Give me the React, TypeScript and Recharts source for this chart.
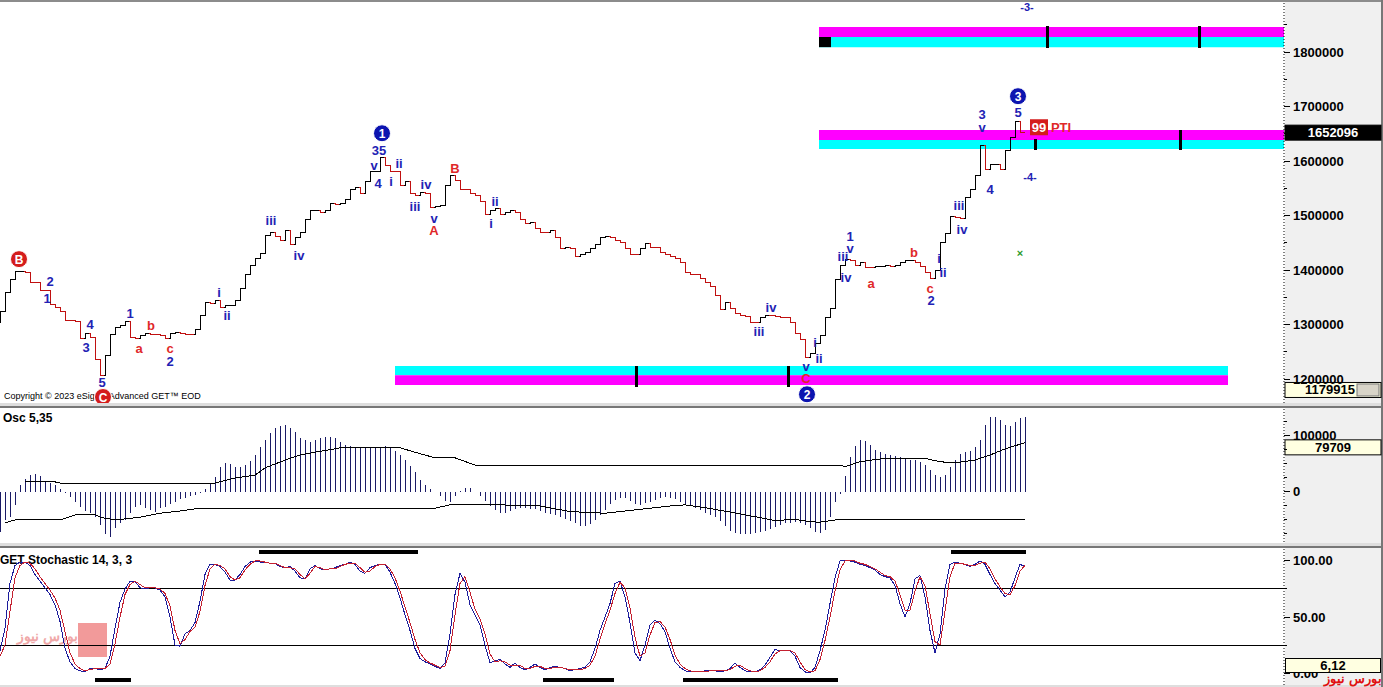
import {
  ComposedChart,
  Line,
  Bar,
  XAxis,
  YAxis,
  ReferenceArea,
  ReferenceLine,
  ReferenceDot,
} from 'recharts'

// daily closes, thousands (one bar every index)
const PRICE = [
  1303, 1323, 1358, 1382, 1398, 1398, 1395, 1378, 1378, 1363,
  1363, 1336, 1332, 1323, 1308, 1308, 1305, 1275, 1284, 1277,
  1235, 1207, 1244, 1281, 1294, 1299, 1305, 1277, 1275, 1279,
  1284, 1281, 1281, 1279, 1275, 1284, 1286, 1284, 1281, 1281,
  1290, 1317, 1341, 1339, 1345, 1332, 1334, 1334, 1345, 1367,
  1391, 1409, 1422, 1431, 1464, 1468, 1461, 1455, 1473, 1446,
  1459, 1468, 1492, 1510, 1510, 1506, 1510, 1523, 1521, 1523,
  1530, 1547, 1552, 1541, 1562, 1580, 1580, 1606, 1591, 1580,
  1580, 1556, 1562, 1541, 1536, 1543, 1541, 1514, 1516, 1519,
  1556, 1573, 1565, 1547, 1547, 1541, 1536, 1525, 1501, 1510,
  1512, 1501, 1506, 1510, 1505, 1492, 1486, 1488, 1477, 1468,
  1468, 1472, 1459, 1440, 1442, 1440, 1424, 1428, 1433, 1440,
  1446, 1459, 1462, 1459, 1455, 1450, 1440, 1428, 1428, 1440,
  1448, 1442, 1442, 1433, 1428, 1424, 1422, 1413, 1396, 1391,
  1391, 1385, 1378, 1369, 1354, 1327, 1341, 1330, 1321, 1317,
  1314, 1303, 1303, 1312, 1317, 1316, 1314, 1312, 1312, 1303,
  1284, 1272, 1240, 1246, 1266, 1279, 1312, 1330, 1382, 1409,
  1420, 1418, 1409, 1413, 1404, 1404, 1406, 1407, 1409, 1406,
  1409, 1413, 1417, 1417, 1413, 1407, 1396, 1385, 1400, 1451,
  1467, 1499, 1497, 1494, 1534, 1547, 1573, 1629, 1584, 1593,
  1593, 1584, 1620, 1644, 1673, 1652,
]

// Osc 5,35 histogram, thousands
const OSC = [
  -71, -50, -44, -23, 12, 24, 30, 32, 29, 20,
  16, 12, 5, -2, -9, -17, -27, -34, -38, -45,
  -59, -75, -80, -65, -56, -50, -38, -27, -24, -28,
  -32, -36, -29, -27, -22, -17, -13, -11, -8, -5,
  -2, 5, 14, 27, 45, 52, 50, 45, 45, 48,
  56, 66, 80, 93, 105, 114, 118, 119, 114, 107,
  96, 93, 89, 93, 96, 98, 98, 96, 89, 84,
  82, 80, 80, 79, 78, 78, 78, 82, 80, 74,
  66, 58, 47, 35, 22, 12, 6, 0, -8, -16,
  -18, -8, 1, 7, 7, 0, -8, -16, -25, -33,
  -38, -38, -34, -31, -29, -29, -30, -31, -34, -37,
  -39, -41, -44, -48, -52, -56, -61, -61, -57, -50,
  -41, -32, -22, -14, -11, -11, -16, -21, -23, -20,
  -18, -14, -11, -9, -10, -13, -18, -22, -25, -28,
  -33, -37, -41, -45, -52, -61, -69, -73, -75, -75,
  -75, -74, -71, -69, -66, -63, -59, -56, -55, -54,
  -55, -59, -64, -71, -73, -68, -45, -18, -3, 28,
  62, 82, 93, 91, 84, 75, 71, 68, 66, 65,
  62, 60, 57, 57, 54, 48, 40, 30, 27, 30,
  45, 58, 68, 72, 74, 80, 92, 120, 134, 134,
  128, 119, 117, 125, 132, 134,
]

// envelope lines of the oscillator: [bar, value]
const OSC_UPPER = [
  [5, 18], [11, 18], [12, 16], [43, 16], [47, 25], [51, 30], [53, 43], [57, 57],
  [60, 66], [63, 71], [67, 77], [68, 79], [80, 79], [83, 71], [87, 61], [91, 61],
  [95, 48], [168, 48], [169, 45], [172, 54], [176, 59], [180, 60], [185, 60],
  [188, 54], [191, 52], [195, 57], [198, 66], [201, 77], [205, 88],
]
const OSC_LOWER = [
  [1, -55], [3, -50], [12, -50], [15, -41], [19, -40], [20, -45], [23, -50],
  [28, -45], [32, -38], [36, -34], [40, -29], [87, -29], [90, -23], [100, -23],
  [108, -25], [114, -35], [121, -38], [128, -31], [134, -25], [137, -23],
  [141, -28], [148, -39], [155, -51], [159, -49], [162, -53], [164, -54],
  [167, -50], [205, -50],
]

const STOCH_K = [
  20, 40, 80, 96, 99, 99, 96, 88, 82, 76,
  70, 61, 46, 22, 10, 4, 2, 1, 4, 4,
  3, 4, 15, 40, 63, 75, 82, 82, 76, 75,
  76, 76, 74, 68, 50, 25, 24, 35, 38, 45,
  64, 88, 97, 97, 95, 90, 83, 83, 88, 95,
  99, 100, 99, 99, 98, 98, 95, 94, 95, 91,
  85, 84, 93, 96, 93, 92, 93, 94, 96, 97,
  99, 97, 91, 89, 94, 96, 97, 97, 90, 80,
  67, 52, 38, 22, 13, 10, 8, 6, 4, 9,
  35, 70, 89, 81, 61, 52, 43, 25, 9, 11,
  12, 8, 5, 9, 5, 3, 5, 8, 5, 3,
  5, 6, 5, 4, 2, 3, 4, 5, 10, 22,
  38, 50, 62, 80, 82, 68, 45, 18, 11, 25,
  43, 47, 44, 37, 22, 10, 5, 2, 1, 1,
  1, 2, 2, 2, 1, 2, 4, 9, 5, 2,
  1, 1, 3, 7, 14, 21, 20, 20, 20, 15,
  5, 1, 0, 5, 20, 38, 62, 85, 100, 100,
  100, 99, 97, 96, 94, 92, 88, 86, 85, 78,
  62, 50, 62, 84, 87, 68, 38, 18, 35, 75,
  97, 99, 98, 97, 95, 97, 100, 97, 88, 80,
  74, 68, 72, 85, 97, 95,
]
const STOCH_D = [
  15, 25, 55, 85, 96, 99, 98, 93, 86, 80,
  74, 67, 56, 37, 18, 8, 4, 2, 3, 4,
  4, 4, 8, 26, 50, 70, 79, 82, 79, 76,
  76, 76, 75, 71, 60, 38, 26, 30, 37, 41,
  55, 78, 93, 97, 96, 93, 86, 83, 85, 92,
  97, 100, 100, 99, 98, 98, 96, 94, 94, 93,
  88, 84, 89, 95, 94, 92, 93, 93, 95, 97,
  98, 98, 94, 90, 91, 95, 97, 97, 93, 85,
  73, 59, 45, 30, 18, 12, 9, 7, 5, 6,
  20, 52, 80, 86, 72, 57, 48, 35, 17, 10,
  11, 10, 7, 7, 7, 4, 4, 6, 6, 4,
  4, 5, 5, 4, 3, 3, 3, 4, 7, 15,
  30, 44, 56, 71, 81, 76, 58, 32, 15, 18,
  34, 45, 46, 41, 30, 16, 8, 4, 2, 1,
  1, 1, 2, 2, 2, 2, 3, 6, 7, 4,
  2, 1, 2, 5, 10, 17, 20, 20, 20, 18,
  10, 3, 1, 2, 12, 29, 50, 73, 92, 100,
  100, 100, 98, 97, 95, 93, 90, 87, 86, 82,
  70, 56, 56, 73, 86, 78, 53, 28, 25, 55,
  86, 98, 98, 97, 96, 96, 98, 99, 93, 84,
  77, 71, 70, 78, 91, 96,
]

// time-projection bands: [from bar, to bar, low, high, colour]
const BANDS = [
  [163.8, 256.8, 1827.6, 1846, '#ff00ff'],
  [163.8, 256.8, 1809, 1827.6, '#00ffff'],
  [163.8, 256.8, 1638.6, 1657, '#ff00ff'],
  [163.8, 256.8, 1622, 1638.6, '#00ffff'],
  [79, 245.6, 1207, 1224, '#00ffff'],
  [79, 245.6, 1189, 1207, '#ff00ff'],
  [163.8, 166.2, 1809, 1827.6, '#000000'],
]
const BAND_MARKS = [
  [209.4, 1808, 1847], [239.8, 1808, 1847],
  [207, 1620, 1641], [236, 1620, 1657],
  [127.2, 1185, 1224], [157.6, 1185, 1224],
]
const STOCH_BARS = [
  [51.8, 83.6, 108], [190.2, 205.2, 108],
  [19, 26.2, -6.5], [108.6, 122.8, -6.5], [136.6, 167.6, -6.5],
]

// wave counts: [bar, price, text, kind]
const WAVES = [
  [3.8, 1420, 'B', 'cr'], [10, 1380, '2', 'b'], [9.4, 1349, '1', 'b'],
  [18, 1301, '4', 'b'], [17.2, 1259, '3', 'b'], [20.4, 1194, '5', 'b'],
  [20.6, 1167, 'C', 'cr'], [26, 1321, '1', 'b'], [30.2, 1299, 'b', 'r'],
  [27.8, 1257, 'a', 'r'], [34, 1257, 'c', 'r'], [34, 1233, '2', 'b'],
  [43.8, 1360, 'i', 'b'], [45.4, 1316, 'ii', 'b'], [54.2, 1492, 'iii', 'b'],
  [59.8, 1427, 'iv', 'b'], [76.4, 1651, '1', 'cb'], [75.8, 1620, '35', 'b'],
  [74.8, 1593, 'v', 'b'], [75.6, 1560, '4', 'b'], [78.2, 1563, 'i', 'b'],
  [79.8, 1596, 'ii', 'b'], [83, 1516, 'iii', 'b'], [85.2, 1558, 'iv', 'b'],
  [86.8, 1495, 'v', 'b'], [86.8, 1472, 'A', 'r'], [91, 1587, 'B', 'r'],
  [99, 1527, 'ii', 'b'], [98.2, 1486, 'i', 'b'], [154.2, 1332, 'iv', 'b'],
  [151.8, 1288, 'iii', 'b'], [163, 1268, 'i', 'b'], [163.8, 1238, 'ii', 'b'],
  [161.2, 1224, 'v', 'b'], [161.2, 1202, 'C', 'r'], [161.4, 1172, '2', 'cb'],
  [170, 1462, '1', 'b'], [170, 1439, 'v', 'b'], [168.6, 1426, 'iii', 'b'],
  [169.2, 1387, 'iv', 'b'], [174.2, 1376, 'a', 'r'], [182.8, 1433, 'b', 'r'],
  [187.8, 1422, 'i', 'b'], [188.6, 1396, 'ii', 'b'], [186, 1367, 'c', 'r'],
  [186.2, 1345, '2', 'b'], [191.8, 1519, 'iii', 'b'], [192.4, 1475, 'iv', 'b'],
  [196.4, 1686, '3', 'b'], [196.4, 1661, 'v', 'b'], [198, 1549, '4', 'b'],
  [203.6, 1719, '3', 'cb'], [203.6, 1690, '5', 'b'], [205.4, 1882, '-3-', 't'],
  [206, 1571, '-4-', 't'], [207.8, 1662, '99', 'box'], [212.2, 1661, 'PTI', 'r'],
  [204, 1431, '×', 'g'],
]

const BARS_SPAN = 256.8
const FONT = "'Liberation Sans', Arial, sans-serif"
const BLUE = '#2222b4'
const RED = '#e02828'

const priceData = PRICE.map((p, i) => ({ i, price: p }))

const oscData = OSC.map((v, i) => ({ i, osc: v, up: null as number | null, lo: null as number | null }))
OSC_UPPER.forEach(([i, v]) => { oscData[i].up = v })
OSC_LOWER.forEach(([i, v]) => { oscData[i].lo = v })

const stochData = STOCH_K.map((k, i) => ({ i, k, d: STOCH_D[i] }))

// up moves black, down moves red
function directionStops() {
  const stops: { off: number; color: string }[] = []
  let color = '#000000'
  for (let i = 0; i < PRICE.length - 1; i++) {
    if (PRICE[i + 1] > PRICE[i]) color = '#000000'
    else if (PRICE[i + 1] < PRICE[i]) color = '#c01010'
    const a = Math.max(0, (i - 0.12) / BARS_SPAN)
    const b = (i + 1 - 0.12) / BARS_SPAN
    stops.push({ off: a, color }, { off: b, color })
  }
  return stops
}

function AxisTick(props: any) {
  const { x, y, payload, labels } = props
  const lab = labels[payload.value]
  return (
    <g>
      <line x1={x - 8} x2={lab ? x - 2 : x - 5} y1={y} y2={y} stroke="#000" shapeRendering="crispEdges" />
      {lab && (
        <text x={x + 1} y={y} dy={4.5} fontSize={13} fontWeight="bold" fontFamily={FONT} fill="#000">
          {lab}
        </text>
      )}
    </g>
  )
}

function valueBox(text: string, bg: string, fg: string, icon = false) {
  return (props: any) => {
    const vb = props.viewBox
    const x = vb.x + vb.width + 1
    const y = vb.y
    return (
      <g>
        <rect x={x} y={y - 7.5} width={96} height={15} fill={bg} stroke="#000" strokeWidth={1} />
        <text
          x={icon ? x + 70 : x + 48}
          y={y}
          dy={4.5}
          textAnchor={icon ? 'end' : 'middle'}
          fontSize={13}
          fontWeight="bold"
          fontFamily={FONT}
          fill={fg}
        >
          {text}
        </text>
        {icon && <rect x={x + 72} y={y - 6} width={22} height={12} fill="#d8d4c8" stroke="#777" />}
      </g>
    )
  }
}

function WaveMark({ cx, cy, text, kind }: any) {
  if (cx == null || cy == null) return null
  if (kind === 'cb' || kind === 'cr') {
    return (
      <g>
        <circle cx={cx} cy={cy} r={8.5} fill={kind === 'cb' ? '#0c14b0' : '#d41c1c'} stroke="#fff" />
        <text x={cx} y={cy} dy={4.5} textAnchor="middle" fontSize={12} fontWeight="bold" fontFamily={FONT} fill="#fff">
          {text}
        </text>
      </g>
    )
  }
  if (kind === 'box') {
    return (
      <g>
        <rect x={cx - 9} y={cy - 8} width={18} height={16} fill="#d41c1c" />
        <text x={cx} y={cy} dy={4.5} textAnchor="middle" fontSize={13} fontWeight="bold" fontFamily={FONT} fill="#fff">
          {text}
        </text>
      </g>
    )
  }
  const color = kind === 'r' ? RED : kind === 'g' ? '#2a9a2a' : BLUE
  const size = kind === 't' ? 11 : kind === 'g' ? 11 : 13
  return (
    <text x={cx} y={cy} dy={size * 0.36} textAnchor="middle" fontSize={size} fontWeight="bold" fontFamily={FONT} fill={color}>
      {text}
    </text>
  )
}

const PRICE_TICKS = [1200, 1250, 1300, 1350, 1400, 1450, 1500, 1550, 1600, 1650, 1700, 1750, 1800, 1850]
const PRICE_LABELS: Record<number, string> = {
  1200: '1200000', 1300: '1300000', 1400: '1400000', 1500: '1500000',
  1600: '1600000', 1700: '1700000', 1800: '1800000',
}
const OSC_TICKS = [-75, -50, -25, 0, 25, 50, 75, 100, 125]
const OSC_LABELS: Record<number, string> = { 0: '0', 100: '100000' }
const STOCH_TICKS = [0, 25, 50, 75, 100]
const STOCH_LABELS: Record<number, string> = { 0: '0.00', 50: '50.00', 100: '100.00' }

const CHART_W = 1383
const AXIS_W = 99

const abs = (left: number, top: number, width: number, height: number, extra: any = {}) => ({
  position: 'absolute' as const, left, top, width, height, ...extra,
})

const boxStyle = { background: '#ffffe1', border: '1px solid #000', boxSizing: 'border-box' as const,
  fontSize: 13, fontWeight: 'bold', color: '#000', textAlign: 'center' as const, lineHeight: '13px' }

export default function App() {
  const stops = directionStops()
  return (
    <div style={abs(0, 0, 1383, 687, { background: '#fff', overflow: 'hidden', fontFamily: FONT })}>
      <style>{'.crisp .recharts-curve, .crisp .recharts-reference-line-line { shape-rendering: crispEdges; }'}</style>
      {/* frame */}
      <div style={abs(0, 0, 1383, 2, { background: '#8c8c8c' })} />
      <div style={abs(0, 403, 1383, 3, { background: '#dedede' })} />
      <div style={abs(0, 406, 1383, 2, { background: '#777' })} />
      <div style={abs(0, 543, 1383, 3, { background: '#dedede' })} />
      <div style={abs(0, 546, 1383, 2, { background: '#777' })} />
      <div style={abs(0, 685, 1383, 2, { background: '#dedede' })} />
      <div style={abs(1285, 2, 96, 401, { background: '#f0f0f0' })} />
      <div style={abs(1285, 408, 96, 135, { background: '#f0f0f0' })} />
      <div style={abs(1285, 548, 96, 137, { background: '#f0f0f0' })} />
      <div style={abs(1381, 0, 2, 687, { background: '#777' })} />

      {/* price panel */}
      <div style={abs(4, 391, 260, 12, { fontSize: 9, color: '#000', whiteSpace: 'nowrap' })}>
        Copyright © 2023 eSignal Advanced GET™ EOD
      </div>
      <div className="crisp" style={abs(0, 3, CHART_W, 400)}>
        <ComposedChart width={CHART_W} height={400} data={priceData} margin={{ top: 0, right: 0, bottom: 0, left: 0 }}>
          <defs>
            <linearGradient id="priceDir" gradientUnits="userSpaceOnUse" x1={0} y1={0} x2={CHART_W - AXIS_W} y2={0}>
              {stops.map((s, k) => (
                <stop key={k} offset={s.off} stopColor={s.color} />
              ))}
            </linearGradient>
          </defs>
          <XAxis dataKey="i" type="number" domain={[0, BARS_SPAN]} hide allowDataOverflow />
          <YAxis
            orientation="right"
            width={AXIS_W}
            domain={[1156, 1890]}
            ticks={PRICE_TICKS}
            interval={0}
            tickLine={false}
            axisLine={{ stroke: '#000', strokeDasharray: '1 2' }}
            tick={(p: any) => <AxisTick {...p} labels={PRICE_LABELS} />}
            allowDataOverflow
          />
          {BANDS.map(([x1, x2, y1, y2, c], k) => (
            <ReferenceArea key={'b' + k} x1={x1 as number} x2={x2 as number} y1={y1 as number} y2={y2 as number}
              fill={c as string} fillOpacity={1} stroke="none" ifOverflow="visible" />
          ))}
          {BAND_MARKS.map(([x, y1, y2], k) => (
            <ReferenceLine key={'m' + k} segment={[{ x, y: y1 }, { x, y: y2 }]} stroke="#000" strokeWidth={3} />
          ))}
          <Line type="stepBefore" dataKey="price" stroke="url(#priceDir)" strokeWidth={1} dot={false}
            activeDot={false} isAnimationActive={false} />
          {WAVES.map(([x, y, text, kind], k) => (
            <ReferenceDot key={'w' + k} x={x as number} y={y as number} r={0} ifOverflow="visible"
              shape={(p: any) => <WaveMark cx={p.cx} cy={p.cy} text={text} kind={kind} />} />
          ))}
          <ReferenceLine y={1652.096} stroke="none" ifOverflow="visible"
            label={valueBox('1652096', '#000', '#fff')} />
          <ReferenceLine y={1179.915} stroke="none" ifOverflow="visible"
            label={valueBox('1179915', '#ffffe1', '#000', true)} />
        </ComposedChart>
      </div>

      {/* oscillator panel */}
      <div style={abs(3, 411, 100, 14, { fontSize: 12, fontWeight: 'bold', color: '#000' })}>Osc 5,35</div>
      <div className="crisp" style={abs(0, 409, CHART_W, 135)}>
        <ComposedChart width={CHART_W} height={135} data={oscData} margin={{ top: 0, right: 0, bottom: 0, left: 0 }}>
          <XAxis dataKey="i" type="number" domain={[0, BARS_SPAN]} hide allowDataOverflow />
          <YAxis
            orientation="right"
            width={AXIS_W}
            domain={[-92.9, 148.2]}
            ticks={OSC_TICKS}
            interval={0}
            tickLine={false}
            axisLine={{ stroke: '#000', strokeDasharray: '1 2' }}
            tick={(p: any) => <AxisTick {...p} labels={OSC_LABELS} />}
            allowDataOverflow
          />
          <Bar
            dataKey="osc"
            barSize={1}
            fill="#1a1a66"
            isAnimationActive={false}
            shape={(p: any) => {
              const y = Math.min(p.y, p.y + p.height)
              return (
                <rect x={Math.floor(p.x + p.width / 2)} y={Math.round(y)} width={1}
                  height={Math.round(Math.abs(p.height))} fill="#1a1a66" shapeRendering="crispEdges" />
              )
            }}
          />
          <Line type="linear" dataKey="up" stroke="#000" strokeWidth={1} dot={false} connectNulls
            activeDot={false} isAnimationActive={false} />
          <Line type="linear" dataKey="lo" stroke="#000" strokeWidth={1} dot={false} connectNulls
            activeDot={false} isAnimationActive={false} />
          <ReferenceLine y={79.709} stroke="none" ifOverflow="visible"
            label={valueBox('79709', '#ffffe1', '#000')} />
        </ComposedChart>
      </div>

      {/* stochastic panel */}
      <div style={abs(0, 553, 200, 14, { fontSize: 12, fontWeight: 'bold', color: '#000', whiteSpace: 'nowrap' })}>
        GET Stochastic 14, 3, 3
      </div>
      <div style={abs(78, 623, 29, 34, { background: '#f29a9a' })} />
      <div style={abs(34, 628, 44, 24, { fontSize: 14, color: '#f0a8a8', fontWeight: 'bold', direction: 'rtl', whiteSpace: 'nowrap' })}>
        بورس نیوز
      </div>
      <div className="crisp" style={abs(0, 549, CHART_W, 136)}>
        <ComposedChart width={CHART_W} height={136} data={stochData} margin={{ top: 0, right: 0, bottom: 0, left: 0 }}>
          <XAxis dataKey="i" type="number" domain={[0, BARS_SPAN]} hide allowDataOverflow />
          <YAxis
            orientation="right"
            width={AXIS_W}
            domain={[-10.7, 110.7]}
            ticks={STOCH_TICKS}
            interval={0}
            tickLine={false}
            axisLine={{ stroke: '#000', strokeDasharray: '1 2' }}
            tick={(p: any) => <AxisTick {...p} labels={STOCH_LABELS} />}
            allowDataOverflow
          />
          <ReferenceLine y={75} stroke="#000" strokeWidth={1} />
          <ReferenceLine y={25} stroke="#000" strokeWidth={1} />
          {STOCH_BARS.map(([x1, x2, y], k) => (
            <ReferenceLine key={'s' + k} segment={[{ x: x1, y }, { x: x2, y }]} stroke="#000" strokeWidth={4} ifOverflow="visible" />
          ))}
          <Line type="linear" dataKey="k" stroke="#1c1c9c" strokeWidth={1} dot={false}
            activeDot={false} isAnimationActive={false} />
          <Line type="linear" dataKey="d" stroke="#c42030" strokeWidth={1} dot={false}
            activeDot={false} isAnimationActive={false} />
        </ComposedChart>
      </div>
      <div style={abs(1285, 658, 96, 15, boxStyle)}>6,12</div>
      <div style={abs(1318, 671, 64, 16, { fontSize: 13, fontWeight: 'bold', color: '#e01010', direction: 'rtl', whiteSpace: 'nowrap' })}>
        بورس نیوز
      </div>
    </div>
  )
}
